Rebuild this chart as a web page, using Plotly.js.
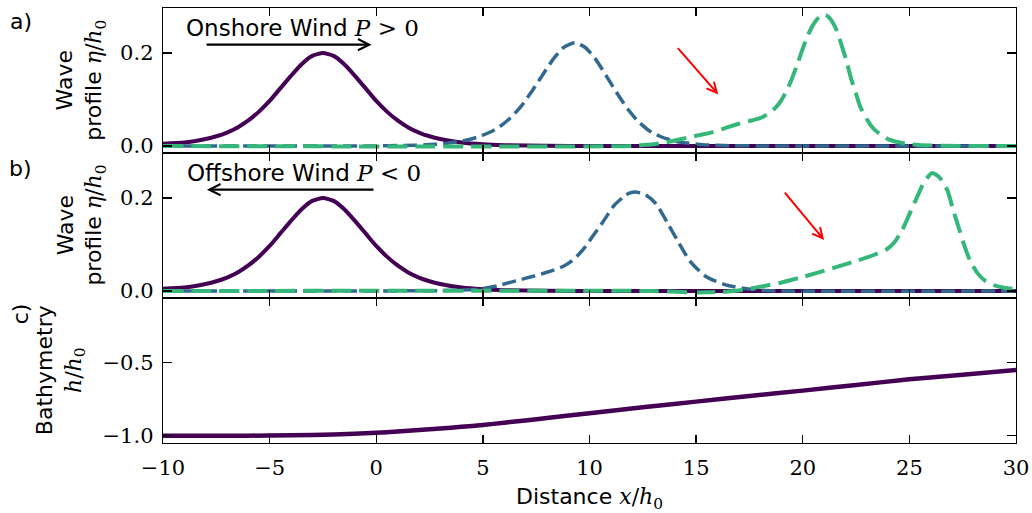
<!DOCTYPE html>
<html>
<head>
<meta charset="utf-8">
<script src="https://cdn.plot.ly/plotly-3.0.1.min.js"></script>
<style>html,body{margin:0;padding:0;background:#fff;}#chart{width:1032px;height:513px;}</style>
</head>
<body>
<div id="chart"></div>
<script>
// ---- data ----
const xTickVals = [-10, -5, 0, 5, 10, 15, 20, 25, 30];
const waveTickVals = [0, 0.2];
const bathyTickVals = [-1, -0.5];

// initial wave (same in panels a and b)
const xPurple = [-10, -9, -8, -7.5, -7, -6.5, -6, -5.5, -5, -4.5, -4, -3.5, -3, -2.5, -2, -1.5, -1, -0.5, 0, 0.5, 1, 1.5, 2, 2.5, 3, 4, 5, 6, 8, 10, 15, 20, 25, 30];
const yPurple = [0.005, 0.0074, 0.0152, 0.021, 0.029, 0.040, 0.055, 0.074, 0.097, 0.124, 0.151, 0.176, 0.194, 0.2, 0.194, 0.176, 0.151, 0.124, 0.097, 0.074, 0.055, 0.040, 0.029, 0.021, 0.0152, 0.0074, 0.0036, 0.0018, 0.0004, 0.0001, 0, 0, 0, 0];

// panel a, onshore wind
const xBlueA = [-10, 0, 1.3, 2.3, 3.3, 4.3, 4.8, 5.3, 5.8, 6.3, 6.8, 7.3, 7.8, 8.3, 8.8, 9.3, 9.8, 10.3, 10.8, 11.3, 11.8, 12.3, 12.8, 13.3, 13.8, 14.3, 15.3, 16.3, 18, 30];
const yBlueA = [0, 0.0003, 0.0011, 0.0025, 0.0057, 0.0133, 0.020, 0.029, 0.042, 0.061, 0.086, 0.118, 0.153, 0.187, 0.2125, 0.222, 0.212, 0.186, 0.150, 0.113, 0.079, 0.052, 0.033, 0.021, 0.013, 0.008, 0.003, 0.001, 0.0002, 0];
const xGreenA = [-10, 12, 12.5, 13, 13.6, 14.2, 14.7, 15.2, 15.8, 16.4, 17, 17.6, 18.1, 18.6, 18.9, 19.2, 19.45, 19.7, 19.95, 20.2, 20.45, 20.75, 20.95, 21.15, 21.35, 21.6, 21.8, 22.05, 22.25, 22.5, 22.7, 23.0, 23.25, 23.6, 23.95, 24.5, 25, 26, 30];
const yGreenA = [0, 0, 0.002, 0.004, 0.008, 0.014, 0.019, 0.024, 0.030, 0.039, 0.048, 0.055, 0.062, 0.077, 0.092, 0.115, 0.140, 0.170, 0.203, 0.234, 0.258, 0.277, 0.283, 0.280, 0.270, 0.248, 0.220, 0.183, 0.148, 0.112, 0.084, 0.058, 0.041, 0.026, 0.016, 0.008, 0.004, 0.001, 0];

// panel b, offshore wind
const xBlueB = [-10, 3, 4.76, 5.65, 6.54, 7.43, 8.31, 8.8, 9.2, 9.5, 9.8, 10.09, 10.62, 11.15, 11.69, 11.9, 12.13, 12.4, 12.66, 13.11, 13.64, 14.17, 14.7, 15.42, 16.3, 17.19, 18.08, 19, 30];
const yBlueB = [0, 0.001, 0.004, 0.011, 0.022, 0.0325, 0.045, 0.054, 0.066, 0.079, 0.095, 0.114, 0.148, 0.184, 0.206, 0.211, 0.213, 0.211, 0.206, 0.188, 0.148, 0.105, 0.065, 0.0325, 0.0145, 0.006, 0.0015, 0, 0];
const xGreenB = [-10, 13, 15, 16.5, 17.37, 18.2, 18.97, 19.9, 20.75, 21.6, 22.53, 23.3, 23.94, 24.3, 24.65, 25.0, 25.36, 25.7, 26.07, 26.4, 26.78, 27.05, 27.31, 27.6, 27.85, 28.2, 28.56, 29.0, 29.45, 30];
const yGreenB = [0, 0, -0.003, -0.001, 0.004, 0.011, 0.018, 0.029, 0.040, 0.052, 0.065, 0.077, 0.090, 0.105, 0.130, 0.165, 0.202, 0.235, 0.254, 0.245, 0.217, 0.175, 0.137, 0.095, 0.065, 0.038, 0.022, 0.012, 0.007, 0.004];

// panel c, bathymetry
const xBathy = [-10, -6, -4, -2, 0, 1, 2, 3, 4, 5, 6, 7, 8, 10, 12.5, 15, 17.5, 20, 22.5, 25, 27.5, 30];
const yBathy = [-1, -1, -0.998, -0.992, -0.98, -0.972, -0.962, -0.952, -0.94, -0.927, -0.912, -0.896, -0.880, -0.847, -0.807, -0.768, -0.730, -0.693, -0.655, -0.616, -0.585, -0.553];

// ---- styling ----
const cPurple = '#440154', cBlue = '#31688e', cGreen = '#35b779';
const SERIF = 'DejaVu Serif';
const SANS = 'DejaVu Sans';

function tr(x, y, xa, ya, color, dash, w) {
  return {x: x, y: y, xaxis: xa, yaxis: ya, type: 'scatter', mode: 'lines',
          line: {color: color, width: w, dash: dash, shape: 'spline', smoothing: 0.6},
          hoverinfo: 'skip'};
}
const traces = [
  tr(xPurple, yPurple, 'x', 'y', cPurple, 'solid', 4),
  tr(xBlueA, yBlueA, 'x', 'y', cBlue, '14px,6px', 3.5),
  tr(xGreenA, yGreenA, 'x', 'y', cGreen, '20px,8px', 4),
  tr(xPurple, yPurple, 'x2', 'y2', cPurple, 'solid', 4),
  tr(xBlueB, yBlueB, 'x2', 'y2', cBlue, '14px,6px', 3.5),
  tr(xGreenB, yGreenB, 'x2', 'y2', cGreen, '20px,8px', 4),
  tr(xBathy, yBathy, 'x3', 'y3', cPurple, 'solid', 4.5)
];

function xax(anchor, labels) {
  return {anchor: anchor, domain: [0, 1], range: [-10, 30], tickvals: xTickVals,
    showticklabels: labels, ticks: 'inside', ticklen: 8, tickwidth: 1.4, tickcolor: '#000',
    showline: true, linecolor: '#000', linewidth: 1.3, mirror: 'allticks',
    showgrid: false, zeroline: false, ticklabelstandoff: 5,
    tickfont: {family: SERIF, size: 21, color: '#000'}};
}
function yax(anchor, dom, range, vals) {
  return {anchor: anchor, domain: dom, range: range, tickvals: vals, tickformat: '.1f',
    ticks: 'inside', ticklen: 9, tickwidth: 1.4, tickcolor: '#000',
    showline: true, linecolor: '#000', linewidth: 1.3, mirror: 'allticks',
    showgrid: false, zeroline: false, ticklabelstandoff: 4,
    tickfont: {family: SERIF, size: 21, color: '#000'}};
}

const math = s => '<span style="font-family:' + SERIF + '">' + s + '</span>';
const lbl = (text, x, y, angle) => ({text: text, xref: 'paper', yref: 'paper', x: x, y: y,
  xanchor: 'center', yanchor: 'middle', showarrow: false, textangle: angle || 0,
  font: {family: SANS, size: 22, color: '#000'}});
const arrow = (xa, ya, x0, y0, x1, y1, color, w) => ({xref: xa, yref: ya, axref: xa, ayref: ya,
  x: x1, y: y1, ax: x0, ay: y0, text: '', showarrow: true, arrowhead: 5, arrowsize: 1.0,
  arrowwidth: w, arrowcolor: color, standoff: 0, startstandoff: 0});

const layout = {
  width: 1032, height: 513,
  margin: {l: 163, r: 16, t: 8, b: 70},
  paper_bgcolor: '#fff', plot_bgcolor: '#fff',
  showlegend: false,
  xaxis: xax('y', false),
  xaxis2: xax('y2', false),
  xaxis3: xax('y3', true),
  yaxis: yax('x', [0.6667, 1], [-0.015, 0.297], waveTickVals),
  yaxis2: yax('x2', [0.3333, 0.6667], [-0.015, 0.297], waveTickVals),
  yaxis3: yax('x3', [0, 0.3333], [-1.05, -0.062], bathyTickVals),
  annotations: [
    lbl('a)', -0.167, 0.97),
    lbl('b)', -0.167, 0.632),
    lbl('c)', -0.167, 0.297, -90),
    lbl('Wave<br>profile ' + math('<i>η</i>/<i>h</i><sub>0</sub>'), -0.096, 0.833, -90),
    lbl('Wave<br>profile ' + math('<i>η</i>/<i>h</i><sub>0</sub>'), -0.096, 0.5, -90),
    lbl('Bathymetry<br>' + math('<i>h</i>/<i>h</i><sub>0</sub>'), -0.12, 0.1667, -90),
    lbl('Distance ' + math('<i>x</i>/<i>h</i><sub>0</sub>'), 0.5, -0.128),
    {text: 'Onshore Wind ' + math('<i>P</i> &gt; 0'), xref: 'x', yref: 'y', x: -3.46, y: 0.255,
     xanchor: 'center', yanchor: 'middle', showarrow: false, font: {family: SANS, size: 23, color: '#000'}},
    {text: 'Offshore Wind ' + math('<i>P</i> &lt; 0'), xref: 'x2', yref: 'y2', x: -3.41, y: 0.255,
     xanchor: 'center', yanchor: 'middle', showarrow: false, font: {family: SANS, size: 23, color: '#000'}},
    arrow('x', 'y', -8.03, 0.218, -0.22, 0.218, '#000', 2.2),
    arrow('x2', 'y2', -0.06, 0.218, -7.94, 0.218, '#000', 2.2),
    arrow('x', 'y', 14.08, 0.214, 16.04, 0.111, '#ff0000', 2),
    arrow('x2', 'y2', 19.1, 0.215, 21.0, 0.110, '#ff0000', 2)
  ]
};

Plotly.newPlot('chart', traces, layout, {staticPlot: true, displayModeBar: false});
</script>
</body>
</html>
